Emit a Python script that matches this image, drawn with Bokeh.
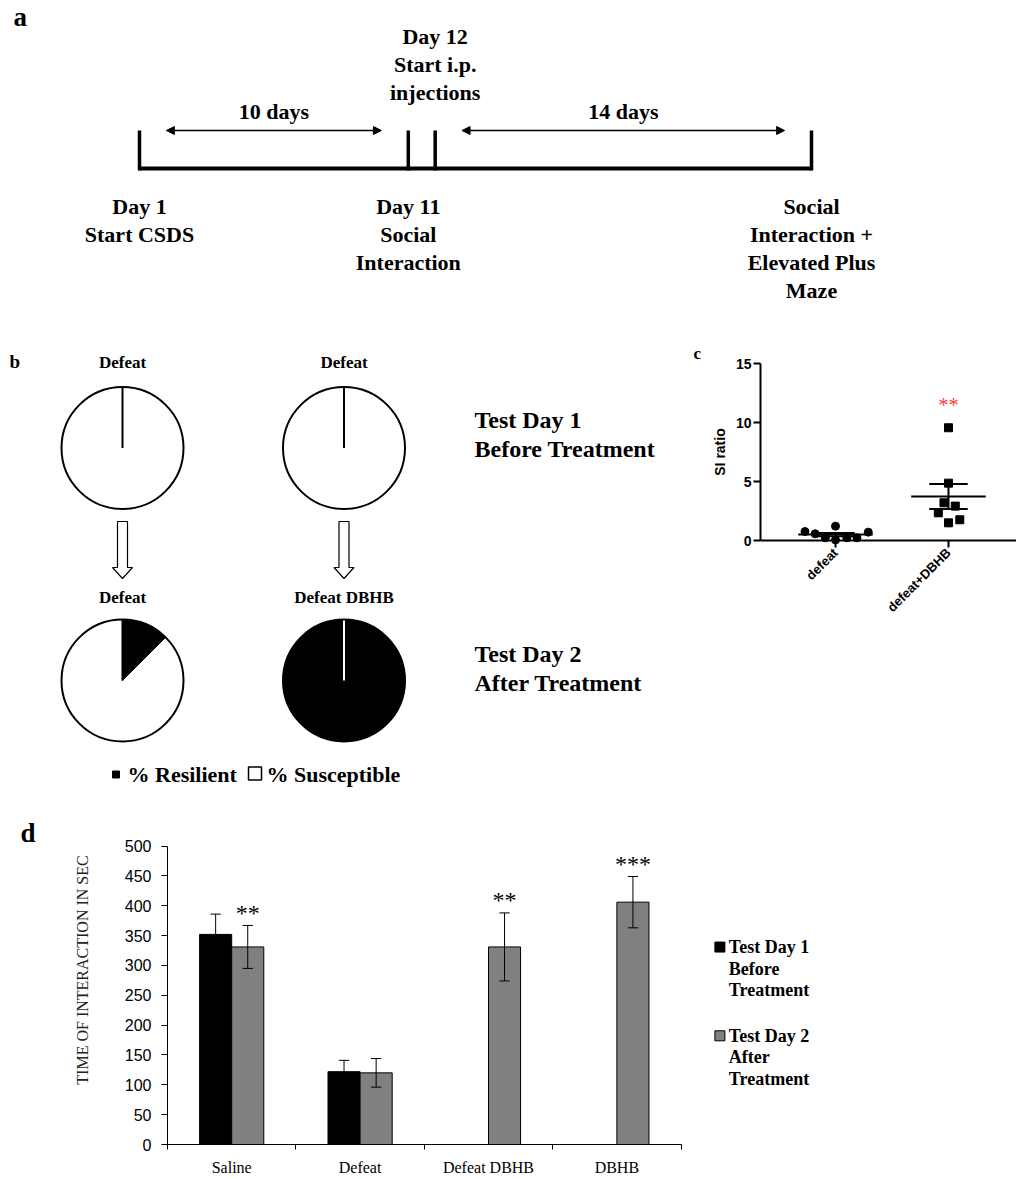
import math
import numpy as np
from bokeh.plotting import figure
from bokeh.models import Range1d, FixedTicker, Arrow, NormalHead, LinearAxis
from bokeh.layouts import column, row
from bokeh.embed import file_html
from bokeh.resources import INLINE
from bokeh.core.properties import value

SERIF_NAME = "Liberation Serif"
SANS_NAME = "Liberation Sans"
SERIF = value(SERIF_NAME)

# ---------------- data ----------------
# panel a: experimental timeline (days)
timeline_days = [1, 11, 12, 26]
interval_start = [1, 12]
interval_end = [11, 26]
interval_text = ["10 days", "14 days"]
below_days = [1, 11, 26]
below_text = [["Day 1", "Start CSDS"],
              ["Day 11", "Social", "Interaction"],
              ["Social", "Interaction +", "Elevated Plus", "Maze"]]
above_days = [12]
above_text = [["Day 12", "Start i.p.", "injections"]]

# panel b: % resilient per group
pie_titles = ["Defeat", "Defeat", "Defeat", "Defeat DBHB"]
pie_resilient = [0.0, 0.0, 12.5, 100.0]
pie_row = [0, 0, 1, 1]
pie_col = [0, 1, 0, 1]
row_titles = [["Test Day 1", "Before Treatment"], ["Test Day 2", "After Treatment"]]
pie_legend = ["% Resilient", "% Susceptible"]

# panel c: SI ratio
c_categories = ["defeat", "defeat+DBHB"]
c_defeat = [0.76, 0.57, 1.22, 0.05, 0.23, 0.23, 0.23, 0.71]
c_defeat_jitter = [-0.27, -0.18, 0.0, 0.0, -0.09, 0.10, 0.19, 0.29]
c_dbhb = [9.57, 4.87, 3.20, 2.92, 2.35, 1.50, 1.76]
c_dbhb_jitter = [0.0, 0.0, -0.04, 0.06, -0.09, 0.0, 0.10]
c_sig = ["", "**"]

# panel d: time of interaction
d_categories = ["Saline", "Defeat", "Defeat DBHB", "DBHB"]
d_day1 = [352, 122, None, None]
d_day1_err = [34, 19, None, None]
d_day2 = [331, 120, 331, 406]
d_day2_err = [36, 24, 57, 43]
d_sig = ["**", "", "**", "***"]
d_series = [["Test Day 1", "Before", "Treatment"], ["Test Day 2", "After", "Treatment"]]
d_colors = ["black", "#808080"]

BASE_FIX = 0.33  # lift alphabetic text so its baseline lands where intended


def blank(width, height, xr, yr, **kw):
    p = figure(width=width, height=height, x_range=xr, y_range=yr,
               output_backend="svg", toolbar_location=None,
               x_axis_location=None, y_axis_location=None, min_border=0, **kw)
    p.outline_line_color = None
    p.grid.visible = False
    p.background_fill_color = "white"
    p.border_fill_color = "white"
    return p


def btext(p, x, y, t, size, up, align="center", bold=True, color="black",
          font=SERIF, **kw):
    fs_px = float(size.replace("px", ""))
    yy = [v + BASE_FIX * fs_px * up for v in y]
    p.text(x=x, y=yy, text=t, text_font=font, text_font_style="bold" if bold else "normal",
           text_font_size=size, text_align=align, text_baseline="alphabetic",
           text_color=color, **kw)


W = 1016

# ---------------- panel a ----------------
A_PX = 26.88
A_X0 = 1 - 139 / A_PX
fa = blank(W, 318, Range1d(A_X0, A_X0 + W / A_PX), Range1d(318, 0))


def ax(px):
    return A_X0 + px / A_PX


fa.segment(x0=[timeline_days[0]], y0=[168], x1=[timeline_days[-1]], y1=[168],
           line_width=4, line_color="black")
fa.segment(x0=timeline_days, y0=[130] * len(timeline_days), x1=timeline_days,
           y1=[170] * len(timeline_days), line_width=3.5, line_color="black")
for s, e in zip(interval_start, interval_end):
    fa.add_layout(Arrow(start=NormalHead(size=8, fill_color="black", line_color="black"),
                        end=NormalHead(size=8, fill_color="black", line_color="black"),
                        x_start=s + 1, x_end=e - 1, y_start=130, y_end=130,
                        line_width=1.5, line_color="black"))
btext(fa, [(s + e) / 2 for s, e in zip(interval_start, interval_end)], [118, 118],
      interval_text, "22px", -1)
xs, ys, ts = [], [], []
for d, lines in zip(below_days, below_text):
    for i, ln in enumerate(lines):
        xs.append(d); ys.append(213 + 28 * i); ts.append(ln)
for d, lines in zip(above_days, above_text):
    for i, ln in enumerate(lines):
        xs.append(d); ys.append(43 + 28 * i); ts.append(ln)
btext(fa, xs, ys, ts, "22px", -1)
btext(fa, [ax(13)], [25], ["a"], "27px", -1, align="left")

# ---------------- panels b + c (one canvas) ----------------
fbc = blank(W, 477, Range1d(0, W), Range1d(-795, -318))
C_PX_X = 113.0
C_PX_Y = 11.78
C_X0 = (0 - 835) / C_PX_X
C_X1 = (W - 835) / C_PX_X
C_Y0 = -(795 - 540) / C_PX_Y
C_Y1 = (540 - 318) / C_PX_Y
C_AXIS_X = (760 - 835) / C_PX_X
fbc.extra_x_ranges = {"cx": Range1d(C_X0, C_X1)}
fbc.extra_y_ranges = {"cy": Range1d(C_Y0, C_Y1)}

# -- panel b: pies
R = 61
col_x = [122, 343.5]
row_y = [-447.5, -680]
px = [col_x[c] for c in pie_col]
py = [row_y[r] for r in pie_row]
fbc.circle(x=px, y=py, radius=R, fill_color="white", line_color=None)
wx, wy, ws = [], [], []
for x, y, r in zip(px, py, pie_resilient):
    if r > 0:
        f = min(r / 100.0, 0.9995)
        wx.append(x); wy.append(y); ws.append(math.pi / 2 - 2 * math.pi * f)
fbc.wedge(x=wx, y=wy, radius=R, start_angle=ws, end_angle=[math.pi / 2] * len(wx),
          direction="anticlock", fill_color="black", line_color="black", line_width=1)
fbc.segment(x0=px, y0=py, x1=px, y1=[y + R for y in py],
            line_color=["white" if r >= 100 else "black" for r in pie_resilient], line_width=2)
fbc.circle(x=px, y=py, radius=R, fill_color=None, line_color="black", line_width=2)
axs, ays = [], []
for x in col_x:
    axs.append([x - 5, x + 5, x + 5, x + 10, x, x - 10, x - 5])
    ays.append([-521, -521, -567, -567, -578, -567, -567])
fbc.patches(xs=axs, ys=ays, fill_color="white", line_color="black", line_width=1.2)
btext(fbc, px, [-368 if r == 0 else -603 for r in pie_row], pie_titles, "17px", 1)
btext(fbc, [474] * 4, [-427, -456, -661, -690.5],
      [row_titles[0][0], row_titles[0][1], row_titles[1][0], row_titles[1][1]],
      "24px", 1, align="left")
fbc.scatter(x=[115.5], y=[-774], marker="square", size=7, fill_color="black", line_color="black")
fbc.scatter(x=[254.5], y=[-773], marker="square", size=13, fill_color="white",
            line_color="black", line_width=1.5)
btext(fbc, [127, 266], [-781, -781], pie_legend, "22px", 1, align="left")
btext(fbc, [9], [-367], ["b"], "19px", 1, align="left")
btext(fbc, [693], [-359], ["c"], "17px", 1, align="left")

# -- panel c: SI ratio scatter with its own axes
yax = LinearAxis(x_range_name="cx", y_range_name="cy", fixed_location=C_AXIS_X,
                 bounds=(0, 15), ticker=FixedTicker(ticks=[0, 5, 10, 15]),
                 axis_label="SI ratio")
xax = LinearAxis(x_range_name="cx", y_range_name="cy", fixed_location=0,
                 bounds=(C_AXIS_X, C_X1), ticker=FixedTicker(ticks=[0, 1]))
xax.major_label_overrides = {i: c for i, c in enumerate(c_categories)}
xax.major_label_orientation = math.pi / 4
for a in (yax, xax):
    a.axis_line_width = 2
    a.axis_line_color = "black"
    a.major_tick_line_width = 2
    a.major_tick_line_color = "black"
    a.major_tick_out = 7
    a.major_tick_in = 0
    a.minor_tick_line_color = None
    a.major_label_text_font = SANS_NAME
    a.major_label_text_font_style = "bold"
    a.major_label_text_color = "black"
yax.major_label_text_font_size = "14px"
xax.major_label_text_font_size = "13px"
yax.major_label_standoff = 2
xax.major_label_standoff = 3
yax.axis_label_text_font = SANS_NAME
yax.axis_label_text_font_style = "bold"
yax.axis_label_text_font_size = "14px"
yax.axis_label_text_color = "black"
yax.axis_label_standoff = 5
fbc.add_layout(yax, "left")
fbc.add_layout(xax, "below")

ck = dict(x_range_name="cx", y_range_name="cy")
fbc.scatter(x=[0 + j for j in c_defeat_jitter], y=c_defeat, marker="circle", size=8,
            color="black", **ck)
fbc.scatter(x=[1 + j for j in c_dbhb_jitter], y=c_dbhb, marker="square", size=8,
            color="black", **ck)
groups = [c_defeat, c_dbhb]
means = [float(np.mean(g)) for g in groups]
sems = [float(np.std(g, ddof=1) / np.sqrt(len(g))) for g in groups]
cx = [0, 1]
fbc.segment(x0=[x - 0.33 for x in cx], x1=[x + 0.33 for x in cx], y0=means, y1=means,
            line_width=2, line_color="black", **ck)
fbc.segment(x0=cx, x1=cx, y0=[m - s for m, s in zip(means, sems)],
            y1=[m + s for m, s in zip(means, sems)], line_width=2, line_color="black", **ck)
for sign in (-1, 1):
    yy = [m + sign * s for m, s in zip(means, sems)]
    fbc.segment(x0=[x - 0.17 for x in cx], x1=[x + 0.17 for x in cx], y0=yy, y1=yy,
                line_width=2, line_color="black", **ck)
btext(fbc, [1], [max(c_dbhb) + 1.4], [c_sig[1]], "20px", 1 / C_PX_Y, bold=False,
      color="#ff3b3b", **ck)

# ---------------- panel d ----------------
D_H = 383
D_BB = 33
D_BOTTOM = 795 + D_H - D_BB
fs = blank(70, D_H, Range1d(0, 70), Range1d(D_BOTTOM, 795), min_border_bottom=D_BB)
btext(fs, [20], [842], ["d"], "27px", -1, align="left")

D_SCALE = (D_BOTTOM - 845.7) / 500.0
D_YEND = (D_BOTTOM - 795) / D_SCALE
D_LEFT = 163
fd = figure(width=W - 70, height=D_H, x_range=Range1d(0.5, 0.5 + (W - D_LEFT) / 129.0),
            y_range=Range1d(0, D_YEND), output_backend="svg", toolbar_location=None,
            min_border_left=D_LEFT - 70, min_border_right=0, min_border_top=0,
            min_border_bottom=D_BB)
fd.outline_line_color = None
fd.grid.visible = False
fd.xaxis.ticker = FixedTicker(ticks=[1, 2, 3, 4], minor_ticks=[0.5, 1.5, 2.5, 3.5, 4.5])
fd.xaxis.bounds = (0.5, 4.5)
fd.xaxis.major_label_overrides = {i + 1: c for i, c in enumerate(d_categories)}
fd.xaxis.major_tick_out = 0
fd.xaxis.major_tick_in = 0
fd.xaxis.minor_tick_out = 5
fd.xaxis.minor_tick_in = 0
fd.xaxis.minor_tick_line_color = "black"
fd.xaxis.major_label_text_font = SERIF_NAME
fd.xaxis.major_label_text_font_size = "16px"
fd.xaxis.major_label_standoff = 9
fd.yaxis.ticker = FixedTicker(ticks=list(range(0, 501, 50)))
fd.yaxis.bounds = (0, 500)
fd.yaxis.major_tick_out = 6
fd.yaxis.major_tick_in = 0
fd.yaxis.minor_tick_line_color = None
fd.yaxis.major_label_text_font = SANS_NAME
fd.yaxis.major_label_text_font_size = "16px"
fd.yaxis.major_label_standoff = 10
fd.yaxis.axis_label = "TIME OF INTERACTION IN SEC"
fd.yaxis.axis_label_text_font = SERIF_NAME
fd.yaxis.axis_label_text_font_style = "normal"
fd.yaxis.axis_label_text_font_size = "16px"
fd.yaxis.axis_label_text_color = "#222222"
fd.yaxis.axis_label_standoff = 31
fd.axis.axis_line_color = "black"
fd.axis.major_tick_line_color = "black"
fd.xaxis.major_tick_line_color = None
fd.axis.major_label_text_color = "black"

BW = 0.25
x1 = [i + 1 - BW / 2 for i, v in enumerate(d_day1) if v is not None]
v1 = [v for v in d_day1 if v is not None]
e1 = [e for e in d_day1_err if e is not None]
x2 = [i + 1 + BW / 2 for i in range(len(d_day2))]
fd.vbar(x=x1, top=v1, width=BW, fill_color=d_colors[0], line_color="black", line_width=1)
fd.vbar(x=x2, top=d_day2, width=BW, fill_color=d_colors[1], line_color="black", line_width=1)
CAP = 0.04
for xx, vv, ee in ((x1, v1, e1), (x2, d_day2, d_day2_err)):
    lo = [v - e for v, e in zip(vv, ee)]
    hi = [v + e for v, e in zip(vv, ee)]
    fd.segment(x0=xx, x1=xx, y0=lo, y1=hi, line_color="black", line_width=1)
    for yy in (lo, hi):
        fd.segment(x0=[x - CAP for x in xx], x1=[x + CAP for x in xx], y0=yy, y1=yy,
                   line_color="black", line_width=1)
btext(fd, x2, [v + e + 5 / D_SCALE for v, e in zip(d_day2, d_day2_err)], d_sig, "24px",
      1 / D_SCALE, bold=False)


def dxp(p):
    return 0.5 + (p - D_LEFT) / 129.0


def dyp(p):
    return (D_BOTTOM - p) / D_SCALE


sq_y = [947, 1036]
fd.scatter(x=[dxp(718)] * 2, y=[dyp(v) for v in sq_y], marker="square", size=10,
           fill_color=d_colors, line_color="black", line_width=1)
lx, ly, lt = [], [], []
for k, lines in enumerate(d_series):
    for i, ln in enumerate(lines):
        lx.append(dxp(727)); ly.append(dyp(sq_y[k] + 6 + 21.5 * i)); lt.append(ln)
btext(fd, lx, ly, lt, "18px", 1 / D_SCALE, align="left")

layout = column(fa, fbc, row(fs, fd))
with open("out.html", "w") as fh:
    fh.write(file_html(layout, INLINE, title="figure"))
